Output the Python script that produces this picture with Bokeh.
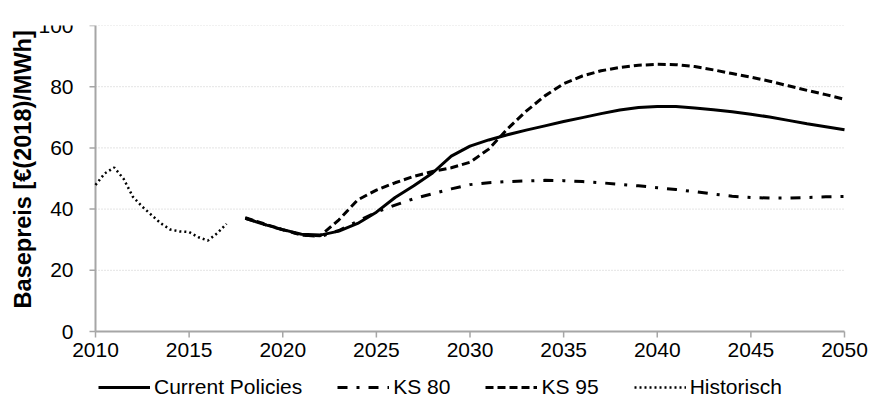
import math
from bokeh.plotting import figure
from bokeh.models import Range1d, Legend, LegendItem
from bokeh.embed import file_html
from bokeh.resources import INLINE

# ---- data ----
years = list(range(2018, 2051))
current_policies = [37.0, 35.0, 33.3, 31.8, 31.5, 32.8, 35.3, 39.0, 43.8, 47.6, 51.8, 57.3, 60.6,
                    62.6, 64.3, 65.8, 67.2, 68.6, 69.9, 71.2, 72.4, 73.2, 73.5, 73.5, 73.0,
                    72.5, 71.8, 71.0, 70.1, 69.0, 67.9, 66.9, 65.9]
ks80 = [37.0, 35.0, 33.2, 31.6, 31.0, 33.0, 36.0, 39.0, 41.3, 43.4, 45.0, 46.6, 48.0,
        48.6, 49.0, 49.2, 49.4, 49.3, 49.0, 48.6, 48.1, 47.6, 47.0, 46.4, 45.7,
        44.9, 44.2, 43.8, 43.6, 43.6, 43.8, 44.0, 44.1]
ks95 = [37.2, 35.2, 33.3, 31.5, 31.3, 36.5, 43.0, 46.2, 48.6, 50.7, 52.3, 53.5, 55.3,
        59.6, 66.2, 72.0, 77.0, 81.0, 83.5, 85.2, 86.3, 87.0, 87.3, 87.2, 86.6,
        85.5, 84.3, 83.1, 81.8, 80.3, 78.8, 77.4, 75.9]
hist_years = [2010.0, 2010.5, 2011.0, 2011.5, 2012.0, 2012.5, 2013.0, 2013.5, 2014.0,
              2014.5, 2015.0, 2015.5, 2016.0, 2016.5, 2017.0]
historisch = [47.9, 51.7, 53.6, 49.9, 44.0, 40.8, 38.0, 35.3, 33.3,
              32.7, 32.5, 30.8, 29.7, 32.1, 35.2]

x_ticks = [2010, 2015, 2020, 2025, 2030, 2035, 2040, 2045, 2050]
y_ticks = [0, 20, 40, 60, 80, 100]
y_title = "Basepreis [€(2018)/MWh]"
labels = ["Current Policies", "KS 80", "KS 95", "Historisch"]

FONT = "Liberation Sans"
AXIS_GREY = "#a6a6a6"

X0, X1 = 2010, 2050
Y0, Y1 = 0, 100
PLOT_W = 749             # pixel width of the 2010..2050 band
PLOT_H = 306             # pixel height of the 0..100 band
LEFT = 95                # pixels left of 2010 (axis labels and title)
FRAME_W = 868
FRAME_H = 375
px_per_year = PLOT_W / (X1 - X0)
px_per_unit = PLOT_H / (Y1 - Y0)
x_left = X0 - LEFT / px_per_year
x_right = X0 + (FRAME_W - LEFT) / px_per_year
y_bottom = Y0 - (FRAME_H - PLOT_H) / px_per_unit

p = figure(output_backend="svg", toolbar_location=None,
           frame_width=FRAME_W, frame_height=FRAME_H,
           x_range=Range1d(x_left, x_right), y_range=Range1d(y_bottom, Y1),
           min_border_left=0, min_border_top=25, min_border_right=0, min_border_bottom=8)
p.outline_line_color = None
p.background_fill_color = "white"
p.border_fill_color = "white"
p.xaxis.visible = False
p.yaxis.visible = False
p.xgrid.grid_line_color = None
p.ygrid.grid_line_color = None

# horizontal dotted grid lines
grid_vals = [v for v in y_ticks if v != Y0]
p.segment(x0=[X0] * len(grid_vals), y0=grid_vals, x1=[X1] * len(grid_vals), y1=grid_vals,
          line_color="#c8c8c8", line_width=1, line_dash="1 2")

# axes lines and ticks
p.segment(x0=[X0], y0=[Y0], x1=[X1], y1=[Y0], line_color=AXIS_GREY, line_width=2)
p.segment(x0=[X0], y0=[Y0], x1=[X0], y1=[Y1], line_color=AXIS_GREY, line_width=2)
xt_len = 6 / px_per_unit
p.segment(x0=x_ticks, y0=[Y0] * len(x_ticks), x1=x_ticks, y1=[Y0 - xt_len] * len(x_ticks),
          line_color=AXIS_GREY, line_width=1.5)
yt_len = 6 / px_per_year
p.segment(x0=[X0 - yt_len] * len(y_ticks), y0=y_ticks, x1=[X0] * len(y_ticks), y1=y_ticks,
          line_color=AXIS_GREY, line_width=1.5)

# tick labels
p.text(x=x_ticks, y=[Y0] * len(x_ticks), text=[str(t) for t in x_ticks],
       y_offset=11, text_align="center", text_baseline="top",
       text_font={"value": FONT}, text_font_size="21px", text_color="black")
p.text(x=[X0] * len(y_ticks), y=y_ticks, text=[str(t) for t in y_ticks],
       x_offset=-22, text_align="right", text_baseline="middle",
       text_font={"value": FONT}, text_font_size="21px", text_color="black")

# y axis title
p.text(x=[X0], y=[53], text=[y_title], x_offset=-73, angle=math.pi / 2,
       text_align="center", text_baseline="middle",
       text_font={"value": FONT}, text_font_size="23.5px", text_font_style="bold",
       text_color="black")

# lines
r_cp = p.line(years, current_policies, line_color="black", line_width=3)
r_80 = p.line(years, ks80, line_color="black", line_width=3, line_dash="10 9 3 9")
r_95 = p.line(years, ks95, line_color="black", line_width=3, line_dash="8 4")
r_h = p.line(hist_years, historisch, line_color="black", line_width=2.5, line_dash="2 3")

legend = Legend(items=[LegendItem(label=labels[0], renderers=[r_cp]),
                       LegendItem(label=labels[1], renderers=[r_80]),
                       LegendItem(label=labels[2], renderers=[r_95]),
                       LegendItem(label=labels[3], renderers=[r_h])],
                orientation="horizontal", location=(LEFT + 3, 1),
                glyph_width=52, glyph_height=22, label_standoff=4, spacing=35,
                padding=0, margin=0, border_line_color=None,
                background_fill_alpha=0,
                label_text_font=FONT, label_text_font_size="21px",
                label_text_color="black", label_height=22)
p.add_layout(legend, "center")

open("out.html", "w").write(file_html(p, INLINE))
